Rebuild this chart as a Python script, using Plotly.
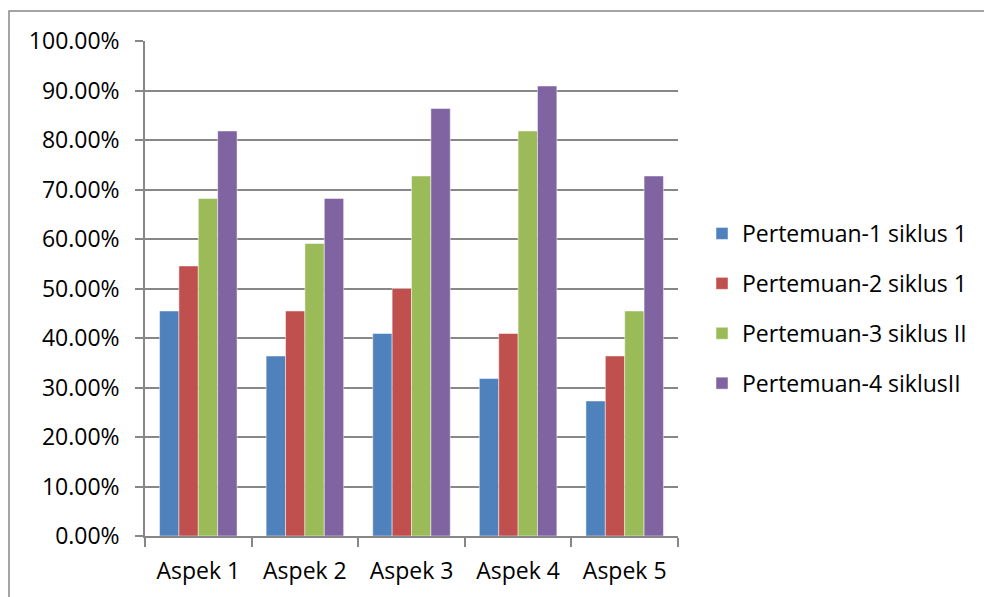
import plotly.graph_objects as go

# Categories and series (share of students, as fractions)
categories = ["Aspek 1", "Aspek 2", "Aspek 3", "Aspek 4", "Aspek 5"]
series_names = [
    "Pertemuan-1 siklus 1",
    "Pertemuan-2 siklus 1",
    "Pertemuan-3 siklus II",
    "Pertemuan-4 siklusII",
]
pertemuan_1 = [0.4545, 0.3636, 0.4091, 0.3182, 0.2727]
pertemuan_2 = [0.5455, 0.4545, 0.5000, 0.4091, 0.3636]
pertemuan_3 = [0.6818, 0.5909, 0.7273, 0.8182, 0.4545]
pertemuan_4 = [0.8182, 0.6818, 0.8636, 0.9091, 0.7273]
series_values = [pertemuan_1, pertemuan_2, pertemuan_3, pertemuan_4]
colors = ["#4F81BD", "#C0504D", "#9BBB59", "#8064A2"]

FONT = "Open Sans"
FS = 23
GRID = "#878787"

fig = go.Figure()
for i, (name, vals, col) in enumerate(zip(series_names, series_values, colors)):
    fig.add_trace(go.Bar(
        x=categories, y=vals, name=name,
        marker=dict(color=col, line=dict(color="rgba(255,255,255,0.6)", width=0.8)),
        legendgroup=f"g{i}",
    ))

W, H = 984, 597
L, R, T, B = 145, 306, 41, 61
pw, ph = W - L - R, H - T - B

def px_x(x):
    return (x - L) / pw

def px_y(y):
    return (H - B - y) / ph

fig.update_layout(
    width=W, height=H,
    margin=dict(l=L, r=R, t=T, b=B, autoexpand=False),
    paper_bgcolor="white", plot_bgcolor="white",
    barmode="group", bargap=0.273, bargroupgap=0,
    font=dict(family=FONT, size=FS, color="black"),
    showlegend=True,
    legend=dict(
        x=px_x(702), y=px_y(212), xanchor="left", yanchor="top",
        font=dict(family=FONT, size=FS, color="black"),
        tracegroupgap=17, itemwidth=30, bgcolor="rgba(0,0,0,0)",
    ),
    xaxis=dict(
        type="category", automargin=False,
        showline=True, linecolor=GRID, linewidth=1.5,
        ticks="outside", tickson="boundaries", ticklen=9, tickcolor=GRID, tickwidth=1.5,
        showgrid=False, tickfont=dict(family=FONT, size=FS, color="black"),
        ticklabelstandoff=14,
    ),
    yaxis=dict(
        range=[0, 1], dtick=0.1, tickformat=".2%", automargin=False,
        showline=True, linecolor=GRID, linewidth=1.5,
        ticks="outside", ticklen=8, tickcolor=GRID, tickwidth=1.5,
        showgrid=True, gridcolor=GRID, gridwidth=1.5, zeroline=False,
        tickfont=dict(family=FONT, size=FS, color="black"),
        ticklabelstandoff=11,
    ),
)

# Chart-area frame around the whole figure
fig.add_shape(
    type="rect", xref="paper", yref="paper",
    x0=px_x(9), x1=px_x(W + 20), y0=px_y(H + 20), y1=px_y(11),
    line=dict(color=GRID, width=1.5), fillcolor="rgba(0,0,0,0)", layer="below",
)

fig.write_html("out.html")
